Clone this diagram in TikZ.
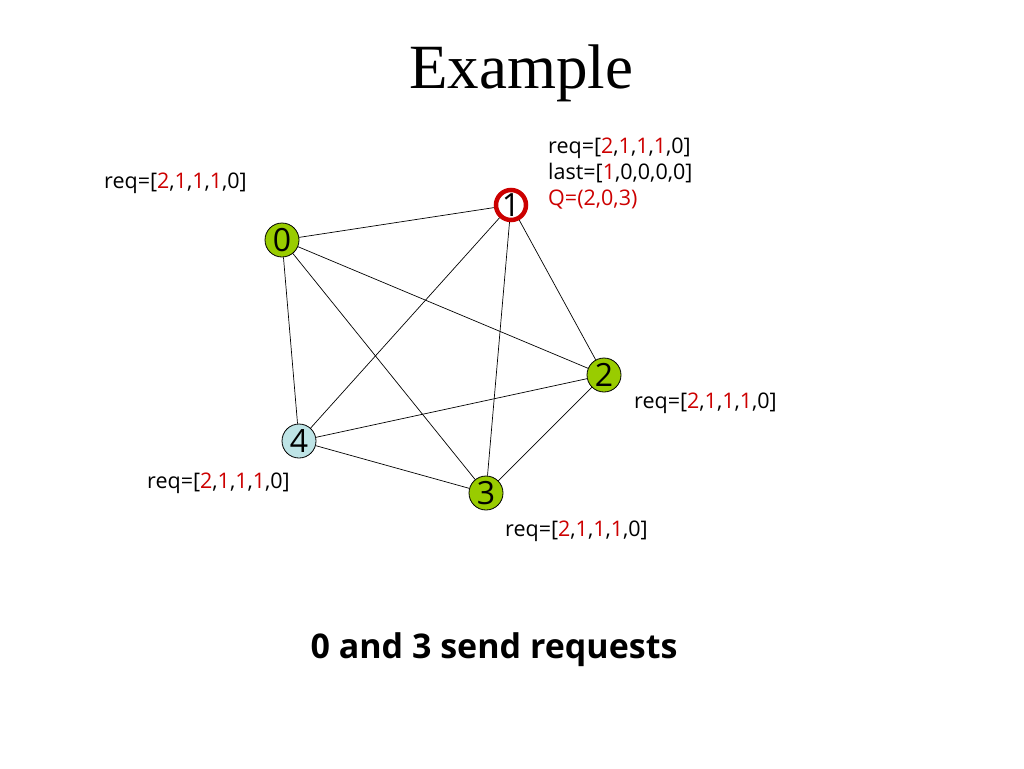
\documentclass[tikz,border=0pt]{standalone}
\usepackage{fontspec}
\setmainfont{Liberation Serif}
\newfontfamily\lblfont{Open Sans}
\definecolor{ngreen}{RGB}{153,204,0}
\definecolor{nblue}{RGB}{190,228,230}
\definecolor{nred}{RGB}{204,0,0}
\newcommand{\rr}[1]{\textcolor{nred}{#1}}
\begin{document}
\begin{tikzpicture}[x=1pt,y=-1pt,
  vtx/.style={circle,draw=black,line width=0.8pt,minimum size=34pt,inner sep=0pt,font=\lblfont\fontsize{32}{32}\selectfont},
  gvtx/.style={vtx,fill=ngreen},
  edge/.style={draw=black,line width=0.7pt},
  lbl/.style={anchor=west,inner sep=0pt,font=\lblfont\fontsize{21.5}{26}\selectfont,align=left}]
\useasboundingbox (0,0) rectangle (1024,768);
\node[anchor=base,inner sep=0pt,font=\fontsize{63}{63}\selectfont] (title) at (521,88) {Example};
\node[gvtx] (n0) at (282,240) {0};
\node[vtx,fill=white,draw=nred,line width=4.5pt,minimum size=30pt] (n1) at (511,205) {1};
\node[gvtx] (n2) at (604,375) {2};
\node[gvtx] (n3) at (486,493) {3};
\node[vtx,fill=nblue] (n4) at (299,441) {4};
\draw[edge] (n0) -- (n1);
\draw[edge] (n0) -- (n2);
\draw[edge] (n0) -- (n3);
\draw[edge] (n0) -- (n4);
\draw[edge] (n1) -- (n2);
\draw[edge] (n1) -- (n3);
\draw[edge] (n1) -- (n4);
\draw[edge] (n2) -- (n3);
\draw[edge] (n2) -- (n4);
\draw[edge] (n3) -- (n4);
\node[lbl] (l0) at (104,183) {req=[\rr{2},\rr{1},\rr{1},\rr{1},0]};
\node[lbl] (l1) at (548,174) {req=[\rr{2},\rr{1},\rr{1},\rr{1},0]\\last=[\rr{1},0,0,0,0]\\\rr{Q=(2,0,3)}};
\node[lbl] (l2) at (634,403) {req=[\rr{2},\rr{1},\rr{1},\rr{1},0]};
\node[lbl] (l4) at (147,483) {req=[\rr{2},\rr{1},\rr{1},\rr{1},0]};
\node[lbl] (l3) at (505,531) {req=[\rr{2},\rr{1},\rr{1},\rr{1},0]};
\node[anchor=center,inner sep=0pt,font=\lblfont\bfseries\fontsize{34}{34}\selectfont] (cap) at (494,650) {0 and 3 send requests};
\end{tikzpicture}
\end{document}
